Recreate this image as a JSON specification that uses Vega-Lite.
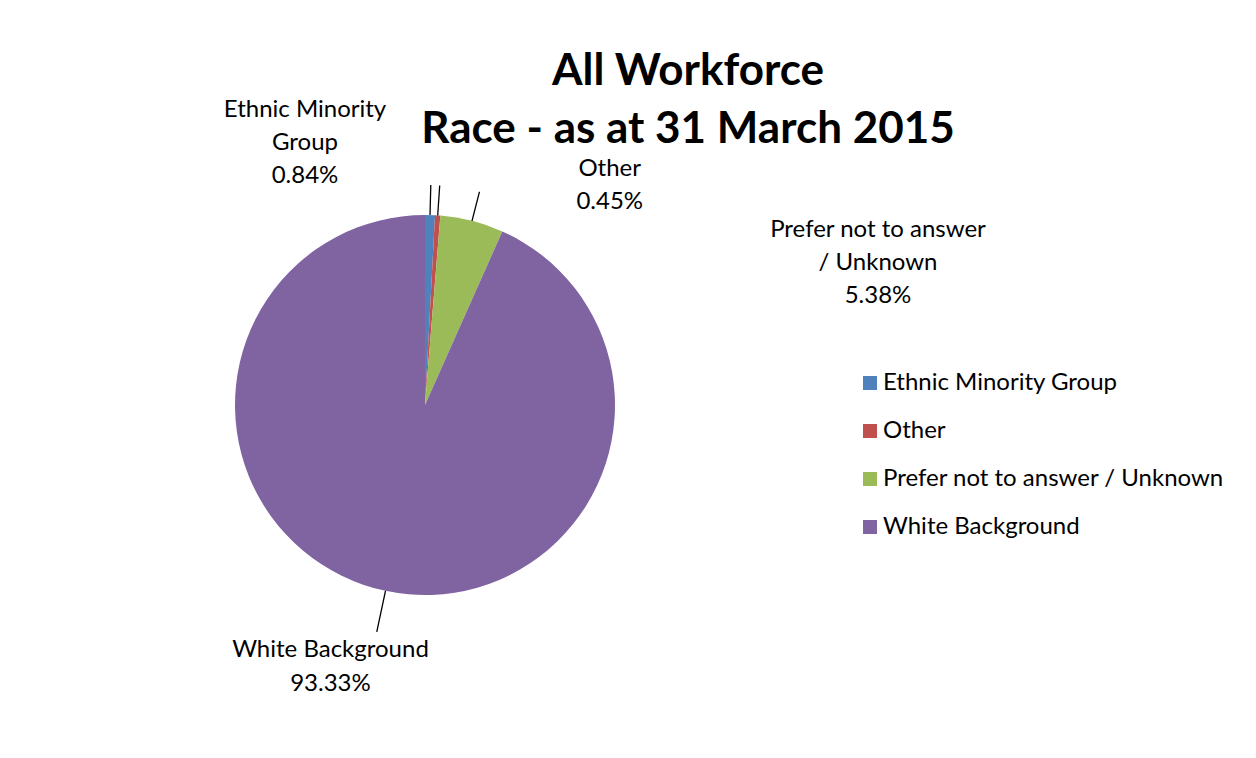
{
  "$schema": "https://vega.github.io/schema/vega-lite/v6.json",
  "width": 850,
  "height": 706,
  "autosize": "none",
  "padding": {"left": 0, "top": 52, "right": 406, "bottom": 0},
  "background": "white",
  "config": {"view": {"stroke": null}, "font": "Lato"},
  "title": {
    "text": ["All Workforce", "Race - as at 31 March 2015"],
    "anchor": "middle",
    "frame": "group",
    "baseline": "alphabetic",
    "offset": 0,
    "dy": 135,
    "dx": 263,
    "fontSize": 44,
    "font": "Lato",
    "fontWeight": "bold",
    "lineHeight": 58,
    "color": "black"
  },
  "data": {
    "values": [
      {"category": "Ethnic Minority Group", "value": 0.84, "order": 1, "label": "Ethnic Minority\nGroup\n0.84%"},
      {"category": "Other", "value": 0.45, "order": 2, "label": "Other\n0.45%"},
      {"category": "Prefer not to answer / Unknown", "value": 5.38, "order": 3, "label": "Prefer not to answer\n/ Unknown\n5.38%"},
      {"category": "White Background", "value": 93.33, "order": 4, "label": "White Background\n93.33%"}
    ]
  },
  "layer": [
    {
      "mark": {"type": "arc", "outerRadius": 190},
      "encoding": {
        "theta": {"field": "value", "type": "quantitative", "stack": true, "scale": {"domain": [0, 100]}},
        "order": {"field": "order", "type": "quantitative"},
        "color": {
          "field": "category",
          "type": "nominal",
          "scale": {
            "domain": ["Ethnic Minority Group", "Other", "Prefer not to answer / Unknown", "White Background"],
            "range": ["#4F81BD", "#C0504D", "#9BBB59", "#8064A2"]
          },
          "legend": {
            "title": null,
            "orient": "none",
            "legendX": 858,
            "legendY": 319,
            "padding": 0,
            "symbolType": "square",
            "symbolSize": 196,
            "symbolStrokeWidth": 0,
            "labelFontSize": 24,
            "labelFont": "Lato",
            "labelColor": "black",
            "labelOffset": 1,
            "labelLimit": 400,
            "rowPadding": 24
          }
        }
      }
    },
    {
      "transform": [
        {"stack": "value", "groupby": [], "sort": [{"field": "order", "order": "ascending"}], "as": ["v0", "v1"]},
        {"filter": "datum.order < 4"}
      ],
      "mark": {"type": "arc", "radius": 220, "radius2": 190, "padAngle": 3, "filled": false, "stroke": "black", "strokeWidth": 1.3},
      "encoding": {
        "theta": {"field": "v0", "type": "quantitative", "scale": {"domain": [0, 100]}},
        "theta2": {"field": "v1"}
      }
    },
    {
      "transform": [
        {"stack": "value", "groupby": [], "sort": [{"field": "order", "order": "ascending"}], "as": ["v0", "v1"]},
        {"filter": "datum.order == 4"}
      ],
      "mark": {"type": "arc", "radius": 232, "radius2": 190, "padAngle": 3, "filled": false, "stroke": "black", "strokeWidth": 1.3},
      "encoding": {
        "theta": {"field": "v0", "type": "quantitative", "scale": {"domain": [0, 100], "range": [1.751, 4.751]}},
        "theta2": {"field": "v1"}
      }
    },
    {
      "mark": {"type": "text", "radius": 190, "dx": -125, "dy": -105, "fontSize": 24, "font": "Lato", "lineBreak": "\n", "lineHeight": 33, "align": "center", "baseline": "middle", "color": "black"},
      "encoding": {
        "theta": {"field": "value", "type": "quantitative", "stack": true},
        "order": {"field": "order", "type": "quantitative"},
        "text": {"condition": {"test": "datum.order == 1", "field": "label"}, "value": ""}
      }
    },
    {
      "mark": {"type": "text", "radius": 190, "dx": 172, "dy": -46, "fontSize": 24, "font": "Lato", "lineBreak": "\n", "lineHeight": 33, "align": "center", "baseline": "middle", "color": "black"},
      "encoding": {
        "theta": {"field": "value", "type": "quantitative", "stack": true},
        "order": {"field": "order", "type": "quantitative"},
        "text": {"condition": {"test": "datum.order == 2", "field": "label"}, "value": ""}
      }
    },
    {
      "mark": {"type": "text", "radius": 190, "dx": 406, "dy": 9, "fontSize": 24, "font": "Lato", "lineBreak": "\n", "lineHeight": 33, "align": "center", "baseline": "middle", "color": "black"},
      "encoding": {
        "theta": {"field": "value", "type": "quantitative", "stack": true},
        "order": {"field": "order", "type": "quantitative"},
        "text": {"condition": {"test": "datum.order == 3", "field": "label"}, "value": ""}
      }
    },
    {
      "mark": {"type": "text", "radius": 190, "dx": -55, "dy": 59, "fontSize": 24, "font": "Lato", "lineBreak": "\n", "lineHeight": 34, "align": "center", "baseline": "middle", "color": "black"},
      "encoding": {
        "theta": {"field": "value", "type": "quantitative", "stack": true},
        "order": {"field": "order", "type": "quantitative"},
        "text": {"condition": {"test": "datum.order == 4", "field": "label"}, "value": ""}
      }
    }
  ],
  "resolve": {"scale": {"theta": "independent"}}
}
